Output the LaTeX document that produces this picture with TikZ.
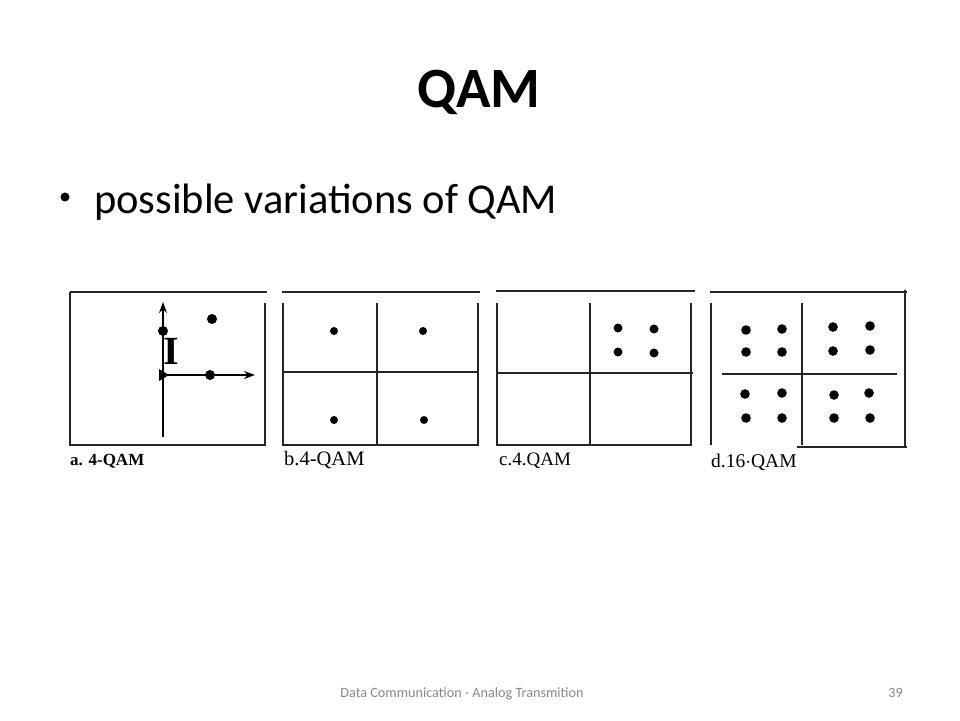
\documentclass[tikz,border=0pt]{standalone}
\usepackage{fontspec}
\setmainfont{Carlito}
\newfontfamily\serifx{Liberation Serif}
\usetikzlibrary{arrows.meta}
\definecolor{footgray}{RGB}{137,137,137}
\begin{document}
\begin{tikzpicture}[x=1pt,y=-1pt,
  frame/.style={line width=1.4pt,draw=black!85},
  dotx/.style={fill=black},
  lbl/.style={anchor=base west,inner sep=0pt,font=\serifx\fontsize{19.5}{22}\selectfont},
  axis/.style={line width=1.4pt,-{Stealth[length=11pt,width=8pt]}}]
\useasboundingbox (0,0) rectangle (960,720);
% title and bullet
\node[anchor=base,inner sep=0pt,font=\bfseries\fontsize{57}{64}\selectfont] (title) at (479,107) {QAM};
\fill (65,197) circle[radius=4.5pt];
\node[anchor=base west,inner sep=0pt,font=\fontsize{42.5}{50}\selectfont] (sub) at (94,213) {possible variations of QAM};
% footer
\node[anchor=base,inner sep=0pt,text=footgray,font=\fontsize{14.2}{17}\selectfont] (foot) at (462,697) {Data Communication - Analog Transmition};
\node[anchor=base east,inner sep=0pt,text=footgray,font=\fontsize{14.2}{17}\selectfont] (page) at (903,697) {39};

% ---- panel a
\draw[frame] (70,292) -- (267,292);
\draw[frame] (70,292) -- (70,445) -- (265,445) -- (265,303);
\draw[axis] (163,437) -- (163,302);
\draw[axis] (163,375) -- (255,375);
\fill (159,369) -- (169,375) -- (159,381) -- cycle;
\fill[dotx] (163,331) circle[radius=5pt];
\fill[dotx] (212,319) circle[radius=5pt];
\fill[dotx] (210,375) circle[radius=5pt];
\node[inner sep=0pt,font=\serifx\bfseries\fontsize{40}{40}\selectfont] (Ilab) at (171,351) {I};
\node[lbl,font=\serifx\bfseries\fontsize{17}{20}\selectfont] (la) at (70,465) {a. 4-QAM};

% ---- panel b
\draw[frame] (282,292) -- (480,292);
\draw[frame] (283,303) -- (283,445) -- (478,445) -- (478,303);
\draw[frame] (377,303) -- (377,445);
\draw[frame] (283,372) -- (478,372);
\fill[dotx] (334,331) circle[radius=4pt];
\fill[dotx] (423,331) circle[radius=4pt];
\fill[dotx] (334,420) circle[radius=4pt];
\fill[dotx] (424,420) circle[radius=4pt];
\node[lbl,font=\serifx\fontsize{20.5}{23}\selectfont] (lb) at (284,465) {b.4-QAM};

% ---- panel c
\draw[frame] (496,291) -- (695,291);
\draw[frame] (497,303) -- (497,445) -- (691,445) -- (691,303);
\draw[frame] (590,303) -- (590,445);
\draw[frame] (497,373) -- (693,373);
\fill[dotx] (618,328) circle[radius=4.5pt];
\fill[dotx] (654,329) circle[radius=4.5pt];
\fill[dotx] (618,352) circle[radius=4.5pt];
\fill[dotx] (654,353) circle[radius=4.5pt];
\node[lbl,font=\serifx\fontsize{19}{22}\selectfont] (lc) at (499,465) {c.4.QAM};

% ---- panel d
\draw[frame] (710,292) -- (907,292);
\draw[frame] (711,303) -- (711,445);
\draw[frame] (905,290) -- (905,448);
\draw[frame] (797,447) -- (907,447);
\draw[frame] (802,303) -- (802,445);
\draw[frame] (722,374) -- (897,374);
\foreach \x/\y in {746/330,782/329,746/352,782/352,
                   745/394,782/393,746/418,782/418,
                   833/327,870/326,833/351,870/350,
                   834/395,869/393,834/418,870/418}
  \fill[dotx] (\x,\y) circle[radius=4.8pt];
\node[lbl] (ld) at (711,467) {d.16$\cdot$QAM};
\end{tikzpicture}
\end{document}
